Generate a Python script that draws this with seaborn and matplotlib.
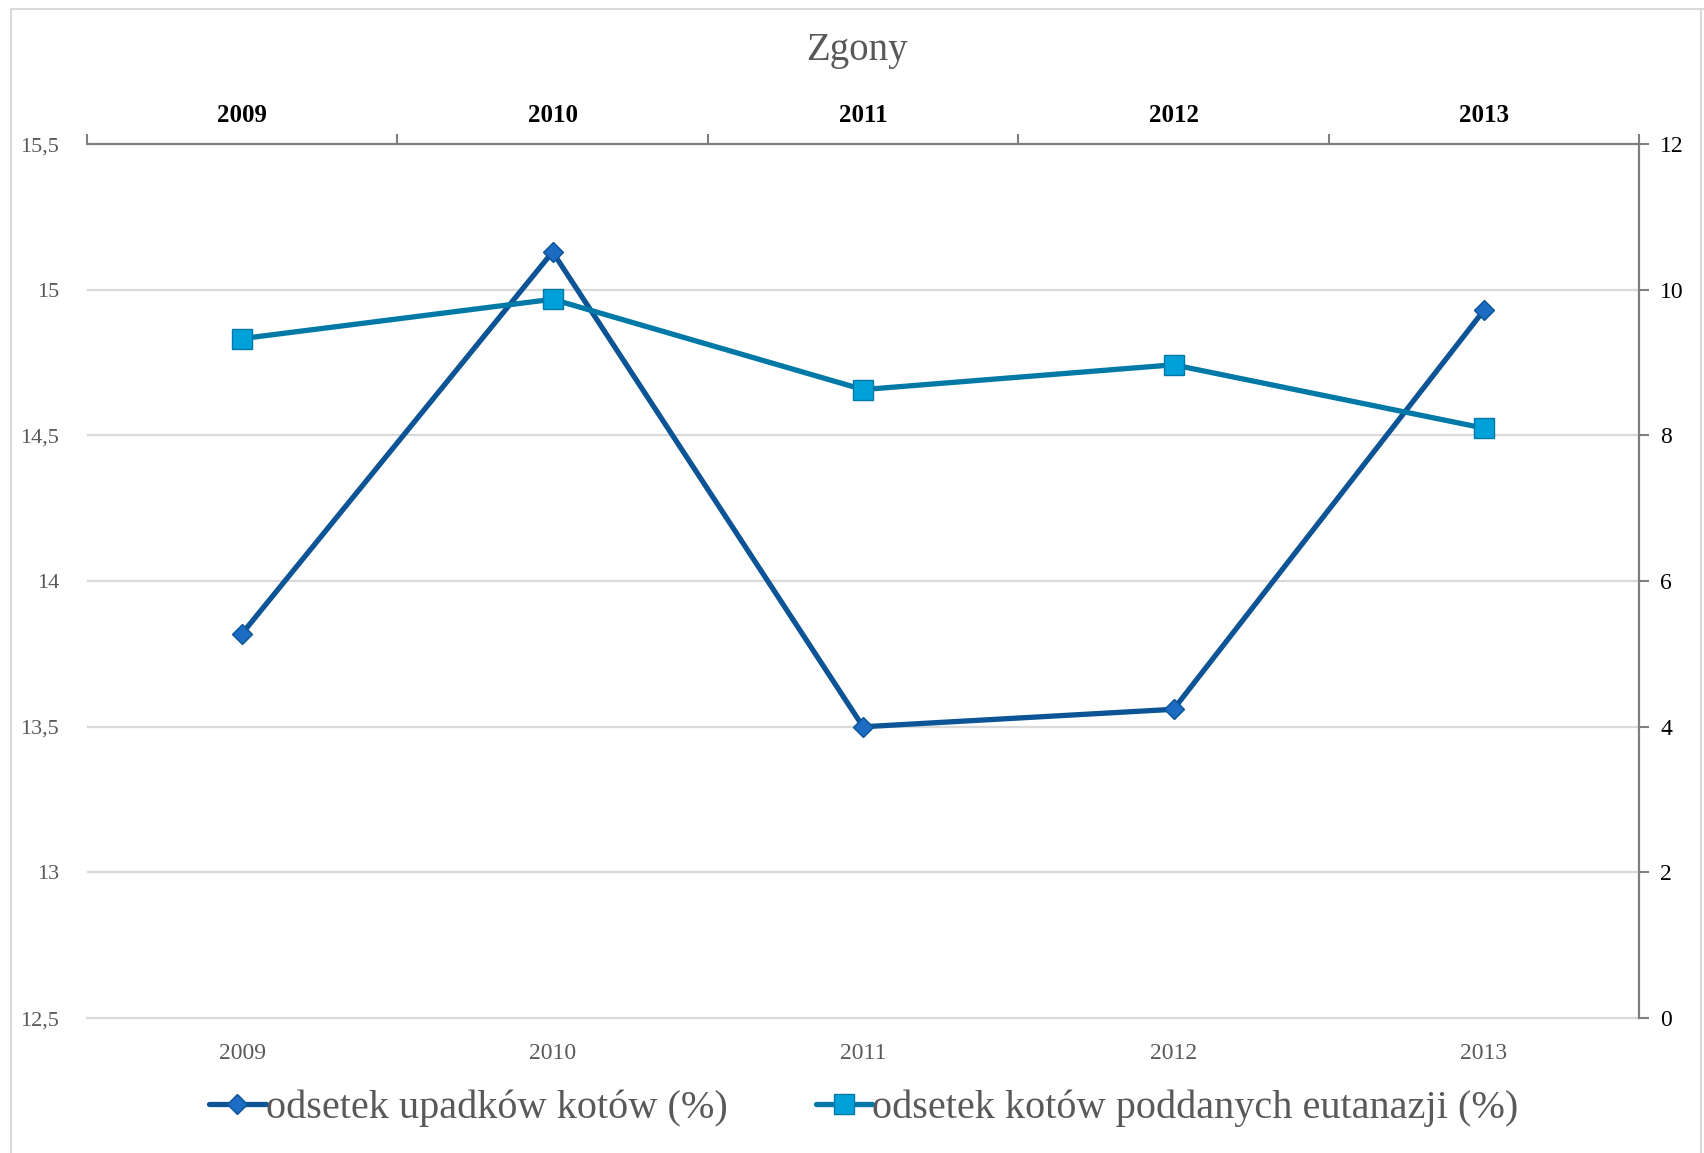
import numpy as np
import pandas as pd
import seaborn as sns
import matplotlib.pyplot as plt
from matplotlib.lines import Line2D

# =========================
# DATA
# =========================
lata = ["2009", "2010", "2011", "2012", "2013"]
upadki = [13.82, 15.13, 13.50, 13.56, 14.93]        # lewa os
eutanazja = [9.33, 9.87, 8.63, 8.97, 8.10]         # prawa os
lewe_ticki = [12.5, 13.0, 13.5, 14.0, 14.5, 15.0, 15.5]
lewe_etykiety = ["12,5", "13", "13,5", "14", "14,5", "15", "15,5"]
prawe_ticki = [0, 2, 4, 6, 8, 10, 12]

nazwa1 = "odsetek upadków kotów (%)"
nazwa2 = "odsetek kotów poddanych eutanazji (%)"

df = pd.DataFrame({"idx": np.arange(len(lata)), "upadki": upadki, "eutanazja": eutanazja})

sns.set_theme(style="white")
plt.rcParams["font.family"] = ["Liberation Serif", "DejaVu Serif"]

SZARY = "#595959"
OS = "#7f7f7f"
SIATKA = "#d9d9d9"

fig = plt.figure(figsize=(17.04, 11.53), dpi=100)
ax = fig.add_axes([0.051, 0.117, 0.911, 0.758])
ax2 = ax.twinx()

# linie
sns.lineplot(data=df, x="idx", y="upadki", ax=ax, color="#0c5496", linewidth=3.8,
             marker="D", markersize=10.5, markerfacecolor="#1c6cc4",
             markeredgecolor="#0c5496", markeredgewidth=1, zorder=4)
sns.lineplot(data=df, x="idx", y="eutanazja", ax=ax2, color="#0079a6", linewidth=3.8,
             marker="s", markersize=14, markerfacecolor="#00a0da",
             markeredgecolor="#0079a6", markeredgewidth=1, zorder=4)

n = len(lata)
granice = np.arange(n + 1) - 0.5

# lewa os
ax.set_xlim(-0.5, n - 0.5)
ax.set_ylim(12.5, 15.5)
ax.set_yticks(lewe_ticki)
ax.set_yticklabels(lewe_etykiety, color=SZARY, fontsize=16)
ax.tick_params(axis="y", length=0, pad=20)
ax.set_ylabel("")
ax.set_xlabel("")
for y in lewe_ticki[1:-1]:
    ax.axhline(y, color=SIATKA, lw=1.6, zorder=1)

# dolna os (kategorie)
ax.set_xticks(granice)
ax.set_xticklabels([])
ax.set_xticks(np.arange(n), minor=True)
ax.set_xticklabels(lata, minor=True, color=SZARY, fontsize=17)
ax.tick_params(axis="x", which="major", direction="out", length=7, color=SIATKA, width=1.5)
ax.tick_params(axis="x", which="minor", length=0, pad=18)
for s in ["left", "right", "top"]:
    ax.spines[s].set_visible(False)
ax.spines["bottom"].set_color(SIATKA)
ax.spines["bottom"].set_linewidth(1.6)

# prawa os
ax2.set_ylim(0, 12)
ax2.set_yticks(prawe_ticki)
ax2.set_yticklabels([str(v) for v in prawe_ticki], color="black", fontsize=17)
ax2.tick_params(axis="y", direction="out", length=7, color=OS, width=1.5, pad=8)
ax2.set_ylabel("")
for s in ["left", "bottom", "top"]:
    ax2.spines[s].set_visible(False)
ax2.spines["right"].set_color(OS)
ax2.spines["right"].set_linewidth(1.6)

# gorna os (kategorie)
top = ax.secondary_xaxis("top")
top.set_xticks(granice)
top.set_xticklabels([])
top.set_xticks(np.arange(n), minor=True)
top.set_xticklabels(lata, minor=True, color="black", fontsize=18, fontweight="bold")
top.tick_params(axis="x", which="major", direction="out", length=7, color=OS, width=1.5)
top.tick_params(axis="x", which="minor", length=0, pad=12)
top.spines["top"].set_color(OS)
top.spines["top"].set_linewidth(1.6)

fig.text(0.503, 0.956, "Zgony", ha="center", va="center", fontsize=28, color=SZARY)

# legenda
uchwyty = [
    Line2D([], [], color="#0c5496", lw=3.8, marker="D", markersize=10.5,
           markerfacecolor="#1c6cc4", markeredgecolor="#0c5496"),
    Line2D([], [], color="#0079a6", lw=3.8, marker="s", markersize=14,
           markerfacecolor="#00a0da", markeredgecolor="#0079a6"),
]
fig.legend(uchwyty, [nazwa1, nazwa2], loc="center", bbox_to_anchor=(0.507, 0.039),
           ncol=2, frameon=False, fontsize=29, labelcolor=SZARY,
           handlelength=1.4, handletextpad=0.0, columnspacing=2.2)

# ramka wykresu
fig.add_artist(Line2D([0.0065, 0.0065], [0, 0.992], transform=fig.transFigure, color=SIATKA, lw=1.5))
fig.add_artist(Line2D([0.0065, 1.0], [0.992, 0.992], transform=fig.transFigure, color=SIATKA, lw=1.5))
fig.add_artist(Line2D([0.9985, 0.9985], [0, 0.992], transform=fig.transFigure, color=SIATKA, lw=1.5))

plt.savefig("out.png", dpi=100)
